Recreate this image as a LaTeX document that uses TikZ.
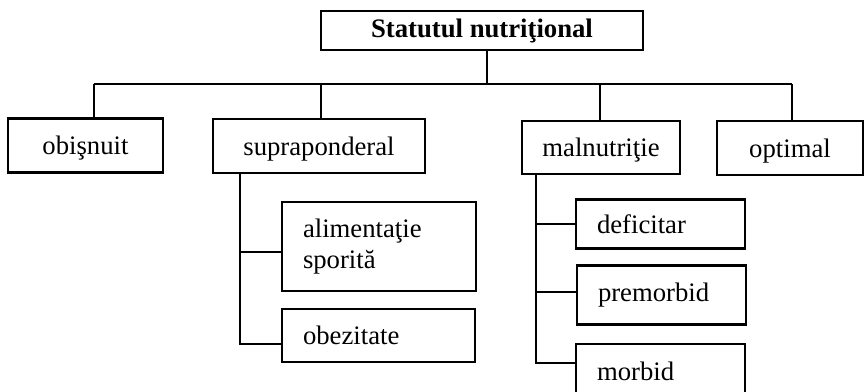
\documentclass[tikz,border=0pt]{standalone}
\usepackage{fontspec}
\setmainfont{Liberation Serif}

\begin{document}
\begin{tikzpicture}[x=1pt,y=-1pt,
  box/.style={draw, line width=2.6pt, inner sep=0pt, font=\fontsize{26.7}{31}\selectfont},
  top/.style={box, text height=18pt, text depth=0pt},
  leaf/.style={box, align=left, inner xsep=21pt},
  link/.style={line width=2pt}]
\useasboundingbox (0,0) rectangle (865,391);

% root
\node[box, minimum width=322pt, minimum height=39pt] (root) at (482,30.5) {\bfseries Statutul nutriţional};

% first level
\node[top, minimum width=155pt, minimum height=54pt] (obis) at (85.5,145.5) {obişnuit};
\node[top, minimum width=212pt, minimum height=54pt] (supra) at (319,146) {supraponderal};
\node[top, minimum width=158pt, minimum height=53pt] (maln) at (601,147.5) {malnutriţie};
\node[top, minimum width=146pt, minimum height=54pt] (optim) at (790,148) {optimal};

% under supraponderal
\node[leaf, text width=152pt, minimum height=89pt] (alim) at (379,246.5) {alimentaţie\\sporită};
\node[leaf, text width=151pt, minimum height=53pt] (obez) at (378.5,335.5) {obezitate};

% under malnutritie
\node[leaf, text width=127pt, minimum height=49pt] (defic) at (660.5,224) {deficitar};
\node[leaf, text width=127pt, minimum height=59pt] (premo) at (661.5,295) {premorbid};
\node[leaf, text width=127pt, minimum height=54pt] (morb) at (660.5,371) {morbid};

% connectors
\coordinate (busy) at (0,84);
\coordinate (sv) at ([xshift=28pt]supra.south west);
\coordinate (mv) at ([xshift=15pt]maln.south west);

\draw[link] ([xshift=5pt]root.south) -- ([xshift=5pt]root.south |- busy);
\draw[link] ([xshift=8pt]obis.north |- busy) -- ([xshift=2pt]optim.north |- busy);
\draw[link] ([xshift=8pt]obis.north |- busy) -- ([xshift=8pt]obis.north);
\draw[link] ([xshift=2pt]supra.north |- busy) -- ([xshift=2pt]supra.north);
\draw[link] ([xshift=-1pt]maln.north |- busy) -- ([xshift=-1pt]maln.north);
\draw[link] ([xshift=2pt]optim.north |- busy) -- ([xshift=2pt]optim.north);

\draw[link] (sv) |- ([yshift=-5pt]alim.west);
\draw[link] (sv) |- ([yshift=-8pt]obez.west);

\draw[link] (mv) |- (defic.west);
\draw[link] (mv) |- ([yshift=3pt]premo.west);
\draw[link] (mv) |- ([yshift=8pt]morb.west);

\end{tikzpicture}
\end{document}
